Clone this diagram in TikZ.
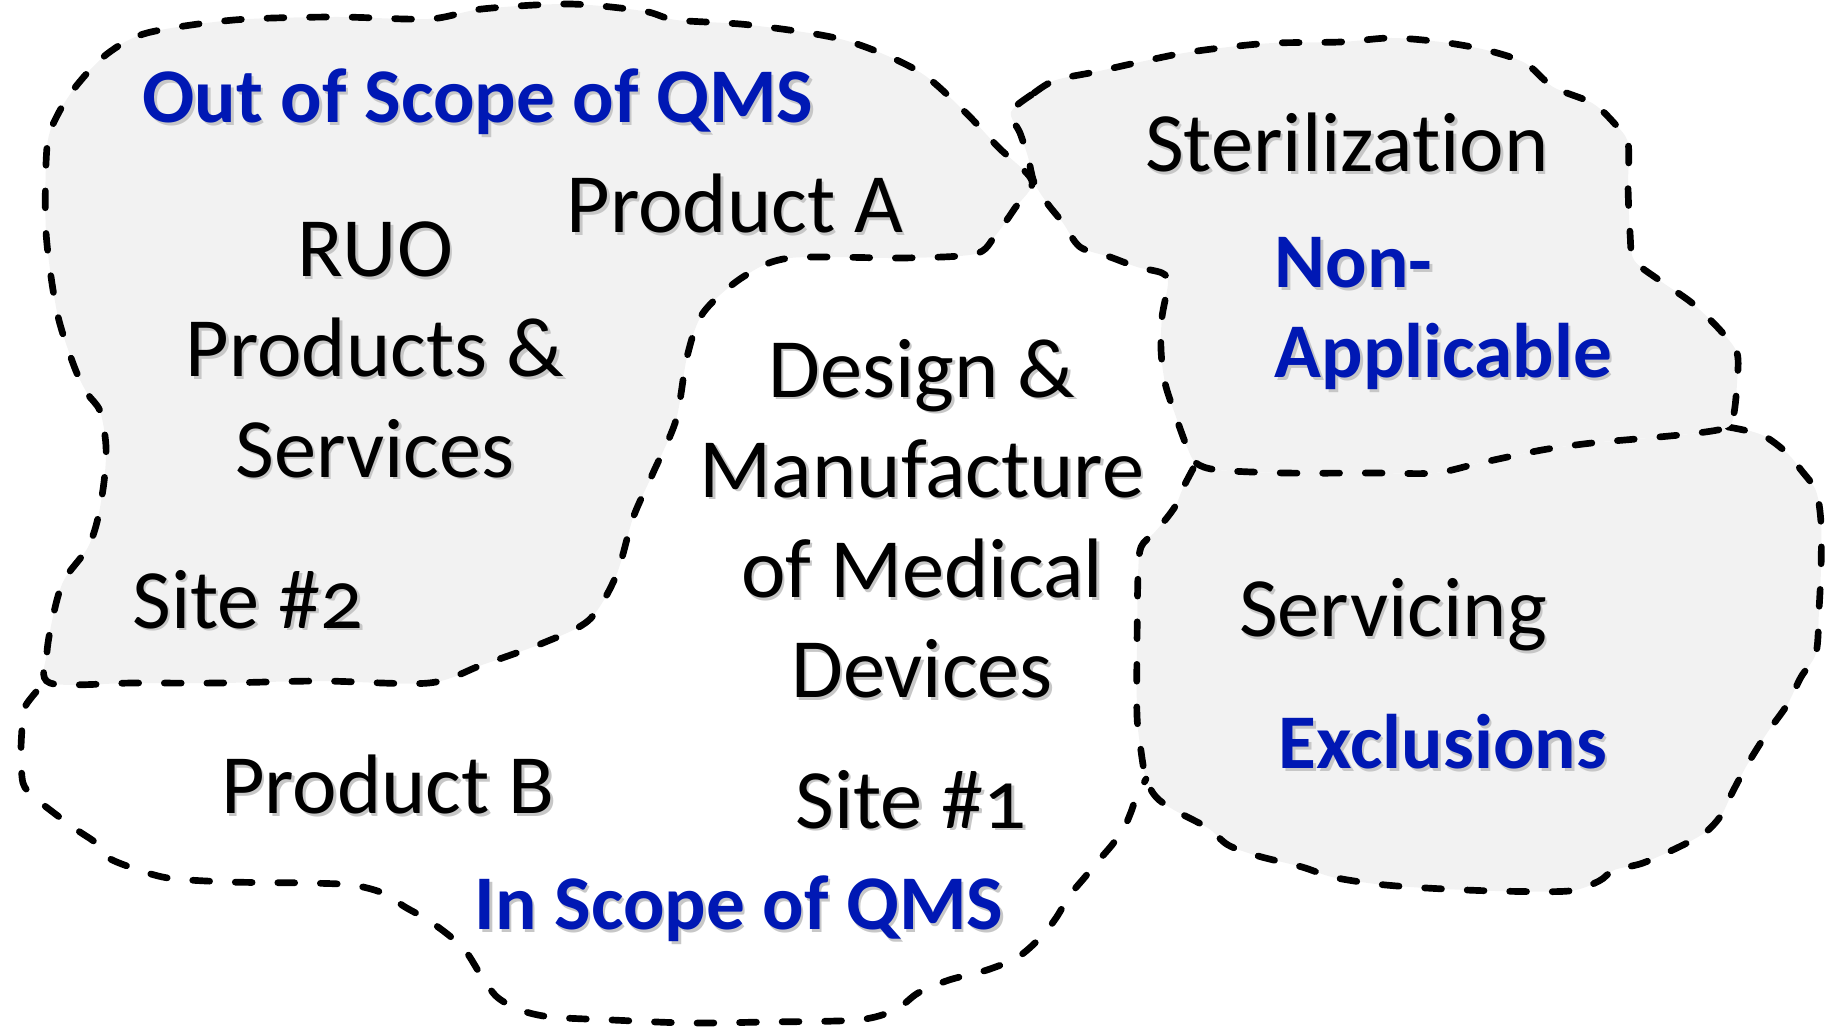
\documentclass[tikz,border=0pt]{standalone}
\usepackage{fontspec}
\setmainfont{Carlito}[Numbers=OldStyle,Ligatures={NoCommon,NoContextual}]
\usepackage{xcolor}
\usetikzlibrary{calc,backgrounds}
\definecolor{qmsblue}{RGB}{0,24,180}
\definecolor{zonegray}{RGB}{242,242,242}
\newcommand{\shd}[1]{\rlap{\raisebox{-0.7pt}{\kern0.7pt\textcolor{black!22}{#1}}}#1}
\tikzset{
	zone/.style={fill=zonegray},
	border/.style={draw=black,line width=1.9pt,line cap=round,dash pattern=on 4.8pt off 7.3pt},
	txt/.style={font=\fontsize{24}{28.5}\selectfont,align=center,inner sep=0pt},
	scopetxt/.style={font=\fontsize{22}{25.6}\selectfont\bfseries,text=qmsblue,align=center,inner sep=0pt}
}

\begin{document}
\begin{tikzpicture}[x=0.01cm,y=-0.01cm]
	\useasboundingbox (0,0) rectangle (1825,1028);
	% out of scope
	\path[zone,border] plot[smooth cycle,tension=0.5] coordinates {(50,683) (47,652) (54,612) (64,580) (87,549) (97,522) (104,482) (106,446) (100,411) (87,393) (74,366) (57,312) (46,232) (47,147) (57,116) (77,85) (107,54) (147,33) (234,20) (335,17) (429,19) (482,9) (569,4) (643,11) (676,20) (750,25) (844,40) (918,71) (965,112) (998,147) (1032,181) (1015,208) (995,236) (975,254) (904,258) (790,258) (743,277) (703,313) (687,357) (676,420) (653,473) (633,518) (616,576) (589,620) (543,643) (482,665) (429,683) (321,681) (221,683) (134,683)};
	% non-applicable / exclusions
	\path[zone] plot[smooth cycle,tension=0.5] coordinates {(1196,465) (1218,470) (1285,473) (1374,473) (1435,473) (1480,463) (1542,450) (1592,443) (1648,438) (1698,433) (1728,427) (1762,435) (1787,453) (1801,470) (1816,491) (1821,523) (1821,568) (1819,610) (1816,653) (1801,677) (1787,705) (1767,733) (1747,765) (1732,793) (1722,814) (1707,831) (1683,845) (1643,863) (1614,870) (1599,881) (1569,891) (1495,891) (1426,888) (1376,884) (1332,877) (1302,867) (1258,856) (1228,845) (1208,828) (1174,810) (1156,797) (1146,779) (1141,751) (1137,716) (1137,646) (1138,575) (1141,547) (1154,533) (1166,519) (1176,505) (1183,488)};
	\path[border] plot[smooth,tension=0.5] coordinates {(1728,427) (1762,435) (1787,453) (1801,470) (1816,491) (1821,523) (1821,568) (1819,610) (1816,653) (1801,677) (1787,705) (1767,733) (1747,765) (1732,793) (1722,814) (1707,831) (1683,845) (1643,863) (1614,870) (1599,881) (1569,891) (1495,891) (1426,888) (1376,884) (1332,877) (1302,867) (1258,856) (1228,845) (1208,828) (1174,810) (1156,797) (1146,779) (1141,751) (1137,716) (1137,646) (1138,575) (1141,547) (1154,533) (1166,519) (1176,505) (1183,488) (1194,467)};
	\path[zone,border] plot[smooth cycle,tension=0.5] coordinates {(1011,112) (1034,93) (1056,80) (1095,72) (1140,62) (1184,53) (1229,47) (1274,43) (1341,42) (1391,38) (1441,42) (1486,50) (1525,63) (1553,87) (1592,103) (1614,123) (1628,143) (1628,187) (1630,233) (1634,260) (1659,280) (1692,303) (1720,330) (1737,353) (1737,383) (1734,413) (1728,427) (1698,433) (1648,438) (1592,443) (1542,450) (1480,463) (1435,473) (1374,473) (1285,473) (1218,470) (1196,463) (1187,447) (1176,417) (1165,383) (1161,350) (1162,317) (1168,283) (1162,273) (1137,267) (1110,257) (1080,247) (1063,223) (1047,203) (1034,182) (1028,157) (1020,133)};
	% in scope
	\path[border] plot[smooth,tension=0.5] coordinates {(36,692) (26,705) (23,717) (21,750) (23,783) (34,797) (54,813) (77,830) (96,843) (107,857) (130,867) (168,878) (230,882) (306,883) (352,885) (383,893) (405,907) (428,920) (451,937) (467,953) (482,977) (497,997) (520,1010) (551,1017) (612,1020) (689,1023) (765,1022) (857,1020) (895,1010) (918,993) (949,980) (987,970) (1018,957) (1041,937) (1056,918) (1070,895) (1085,877) (1099,860) (1112,845) (1124,828) (1131,812) (1136,798) (1146,779)};

	\node[scopetxt] (outscope) at (478,103) {\shd{Out of Scope of QMS}};
	\node[txt] (prodA) at (735,205) {\shd{Product A}};
	\node[txt] (ruo) at (375,351) {\shd{RUO}\\\shd{Products \&}\\\shd{Services}};
	\node[txt] (site2) at (248,601) {\shd{Site \#2}};
	\node[txt] (design) at (922,520) {\shd{Design \&}\\\shd{Manufacture}\\\shd{of Medical}\\\shd{Devices}};
	\node[txt] (site1) at (911,801) {\shd{Site \#1}};
	\node[txt] (prodB) at (388,786) {\shd{Product B}};
	\node[scopetxt] (inscope) at (739,910) {\shd{In Scope of QMS}};
	\node[txt] (steril) at (1347,144) {\shd{Sterilization}};
	\node[scopetxt,align=left,anchor=west] (nonapp) at (1274,315) {\shd{Non-}\\\shd{Applicable}};
	\node[txt] (servicing) at (1393,616) {\shd{Servicing}};
	\node[scopetxt] (excl) at (1443,743) {\shd{Exclusions}};
\end{tikzpicture}
\end{document}
